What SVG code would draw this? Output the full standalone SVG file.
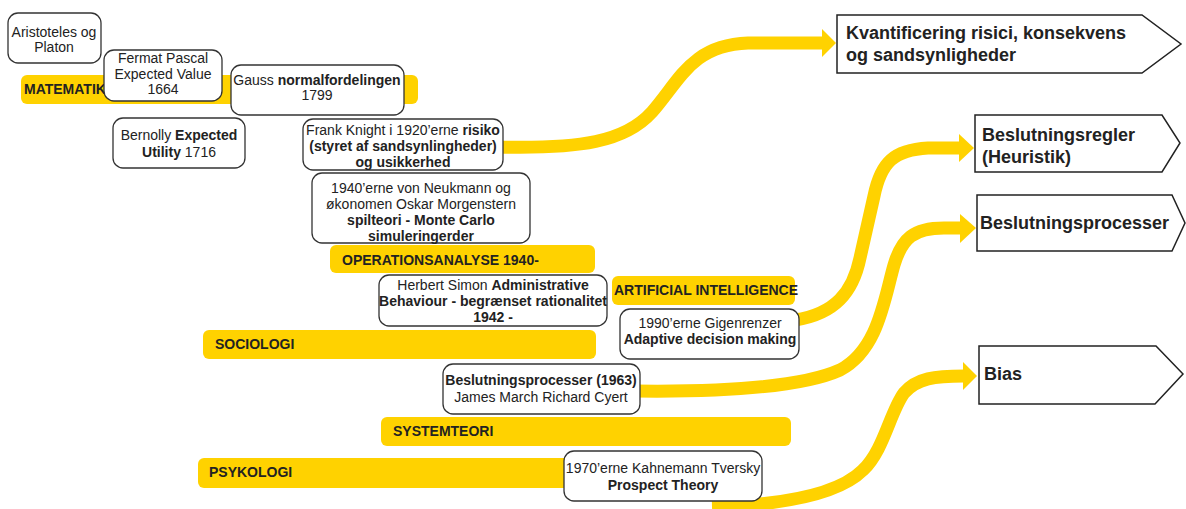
<svg xmlns="http://www.w3.org/2000/svg" width="1186" height="509" viewBox="0 0 1186 509">
<style>
.bg{fill:#ffffff}
.bar{fill:#FFD200}
.box{fill:#ffffff;stroke:#333333;stroke-width:1.3}
.tag{fill:#ffffff;stroke:#222222;stroke-width:1.5}
.t{font-family:"Liberation Sans",Arial,sans-serif;font-size:14px;fill:#222222;text-anchor:middle}
.bl{font-family:"Liberation Sans",Arial,sans-serif;font-size:14px;font-weight:bold;fill:#222222}
.big{font-family:"Liberation Sans",Arial,sans-serif;font-size:18px;font-weight:bold;fill:#222222}
.b{font-weight:bold}
.flow{fill:none;stroke:#FFD200;stroke-width:13;stroke-linecap:butt}
.head{fill:#FFD200}
</style>
<rect class="bg" x="0" y="0" width="1186" height="509"/>

<g id="connectors">
  <path class="flow" d="M498,147 C580,149 625,142 652,112 C680,80 692,45 748,43 L823,43"/>
  <polygon class="head" points="822,29 836,43 822,57"/>
  <path class="flow" d="M795,320 C835,314 853,292 860,258 L874,196 C881,162 894,150 928,148 L960,148"/>
  <polygon class="head" points="959,134 974,148 959,162"/>
  <path class="flow" d="M635,391 C720,392 800,388 840,370 C878,350 884,300 894,265 C902,238 914,228 944,228 L961,228"/>
  <polygon class="head" points="960,214 976,228 960,243"/>
  <path class="flow" d="M712,507 C780,505 838,495 863,470 C884,450 890,412 904,393 C917,378 935,376 964,376"/>
  <polygon class="head" points="963,362 977,376 963,390"/>
</g>

<g id="bar-matematik">
  <rect class="bar" x="21" y="75" width="397" height="29" rx="6"/>
  <text class="bl" x="24" y="94">MATEMATIK</text>
</g>
<g id="bar-operationsanalyse">
  <rect class="bar" x="330" y="245" width="265" height="28" rx="6"/>
  <text class="bl" x="342" y="265">OPERATIONSANALYSE 1940-</text>
</g>
<g id="bar-ai">
  <rect class="bar" x="612" y="276" width="183" height="29" rx="6"/>
  <text class="bl" x="614" y="295">ARTIFICIAL INTELLIGENCE</text>
</g>
<g id="bar-sociologi">
  <rect class="bar" x="203" y="330" width="393" height="29" rx="6"/>
  <text class="bl" x="215" y="349">SOCIOLOGI</text>
</g>
<g id="bar-systemteori">
  <rect class="bar" x="381" y="417" width="410" height="29" rx="6"/>
  <text class="bl" x="393" y="436">SYSTEMTEORI</text>
</g>
<g id="bar-psykologi">
  <rect class="bar" x="198" y="458" width="400" height="30" rx="6"/>
  <text class="bl" x="209" y="477">PSYKOLOGI</text>
</g>

<g id="node-aristoteles">
  <rect class="box" x="8" y="13" width="93" height="50" rx="10"/>
  <text class="t" x="54" y="37">Aristoteles og</text>
  <text class="t" x="54" y="52">Platon</text>
</g>
<g id="node-fermat">
  <rect class="box" x="104" y="50" width="118" height="51" rx="10"/>
  <text class="t" x="163" y="63">Fermat Pascal</text>
  <text class="t" x="163" y="79">Expected Value</text>
  <text class="t" x="163" y="94">1664</text>
</g>
<g id="node-gauss">
  <rect class="box" x="231" y="65" width="173" height="50" rx="10"/>
  <text class="t" x="317" y="85">Gauss <tspan class="b">normalfordelingen</tspan></text>
  <text class="t" x="317" y="100">1799</text>
</g>
<g id="node-bernolly">
  <rect class="box" x="113" y="118" width="132" height="50" rx="10"/>
  <text class="t" x="179" y="140">Bernolly <tspan class="b">Expected</tspan></text>
  <text class="t" x="179" y="157"><tspan class="b">Utility</tspan> 1716</text>
</g>
<g id="node-knight">
  <rect class="box" x="303" y="119" width="200" height="51" rx="10"/>
  <text class="t" x="403" y="135">Frank Knight i 1920’erne <tspan class="b">risiko</tspan></text>
  <text class="t b" x="403" y="151">(styret af sandsynlingheder)</text>
  <text class="t b" x="403" y="167">og usikkerhed</text>
</g>
<g id="node-neumann">
  <rect class="box" x="312" y="173" width="218" height="70" rx="10"/>
  <text class="t" x="421" y="193">1940’erne von Neukmann og</text>
  <text class="t" x="421" y="209">økonomen Oskar Morgenstern</text>
  <text class="t b" x="421" y="225">spilteori - Monte Carlo</text>
  <text class="t b" x="421" y="241">simuleringerder</text>
</g>
<g id="node-simon">
  <rect class="box" x="379" y="275" width="228" height="51" rx="10"/>
  <text class="t" x="493" y="290">Herbert Simon <tspan class="b">Administrative</tspan></text>
  <text class="t b" x="493" y="306">Behaviour - begrænset rationalitet</text>
  <text class="t b" x="493" y="322">1942 -</text>
</g>
<g id="node-gigenrenzer">
  <rect class="box" x="620" y="309" width="179" height="50" rx="10"/>
  <text class="t" x="710" y="328">1990’erne Gigenrenzer</text>
  <text class="t b" x="710" y="344">Adaptive decision making</text>
</g>
<g id="node-march">
  <rect class="box" x="443" y="364" width="197" height="50" rx="10"/>
  <text class="t b" x="541" y="385">Beslutningsprocesser (1963)</text>
  <text class="t" x="541" y="402">James March Richard Cyert</text>
</g>
<g id="node-kahnemann">
  <rect class="box" x="564" y="451" width="198" height="50" rx="10"/>
  <text class="t" x="663" y="473">1970’erne Kahnemann Tversky</text>
  <text class="t b" x="663" y="490">Prospect Theory</text>
</g>

<g id="out-kvantificering">
  <polygon class="tag" points="837,15 1142,15 1181,44 1142,73 837,73"/>
  <text class="big" x="846" y="39">Kvantificering risici, konsekvens</text>
  <text class="big" x="846" y="61">og sandsynligheder</text>
</g>
<g id="out-regler">
  <polygon class="tag" points="975,115 1162,115 1180,143 1162,172 975,172"/>
  <text class="big" x="982" y="141">Beslutningsregler</text>
  <text class="big" x="982" y="163">(Heuristik)</text>
</g>
<g id="out-processer">
  <polygon class="tag" points="977,195 1172,195 1185,223 1172,251 977,251"/>
  <text class="big" x="980" y="229">Beslutningsprocesser</text>
</g>
<g id="out-bias">
  <polygon class="tag" points="979,346 1156,346 1183,374 1155,404 979,404"/>
  <text class="big" x="984" y="380">Bias</text>
</g>
</svg>
